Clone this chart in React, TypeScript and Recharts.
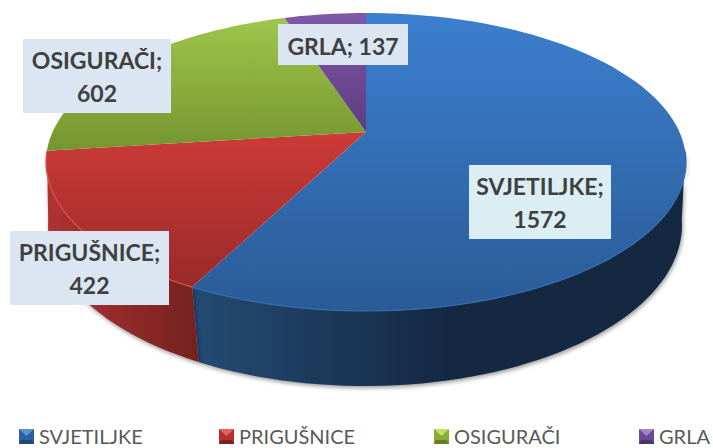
import React from 'react';
import { PieChart, Pie, Legend } from 'recharts';

const categories = ['SVJETILJKE', 'PRIGUŠNICE', 'OSIGURAČI', 'GRLA'];
const values = [1572, 422, 602, 137];
const tableData = categories.map((name, i) => ({ name, value: values[i] }));

// top face gradients, from the sector's upper to lower edge
const topColors = [
  ['#3c7fcf', '#2a5b97'],
  ['#cc3b37', '#972a2a'],
  ['#a0c64b', '#74942f'],
  ['#8058a9', '#5d3d7f'],
];
const topRanges = [
  [13, 311],
  [132, 292],
  [17, 153],
  [13, 132],
];
const rimColors = ['#366dae', '#e2504d', '#a6cc52', '#8a62b4'];
// side wall gradients, left to right
const wallColors = [
  ['#244a74', '#142841'],
  ['#ad3331', '#742120'],
  ['#74942f', '#74942f'],
  ['#5d3d7f', '#5d3d7f'],
];
const wallRanges = [
  [196, 450],
  [50, 198],
  [50, 300],
  [280, 366],
];
const labelBoxes = [
  { x: 469, y: 165, w: 142, h: 74, fill: '#dbeef4' },
  { x: 10, y: 231, w: 159, h: 74, fill: '#dce6f2' },
  { x: 23, y: 39, w: 148, h: 74, fill: '#dce6f2' },
  { x: 278, y: 24, w: 130, h: 41, fill: '#dce6f2' },
];
const legendSpots = [19, 219, 434, 639];
const legendShades = [
  ['#5b92d2', '#2c5f9e', '#1f4777', '#3a72b5'],
  ['#e8615e', '#b5302e', '#7e2220', '#c93c39'],
  ['#bfe060', '#8aab3a', '#62802a', '#9cc046'],
  ['#a283cc', '#6a4a94', '#4c3370', '#7c5aa8'],
];

const FONT = 'Lato, "Open Sans", sans-serif';
const topFace = { cx: 366, cy: 162, rx: 320, ry: 149, tilt: 0.2013 };
const bottomFace = { cx: 365, cy: 225, rx: 317, ry: 161, tilt: 0.163 };
const FRONT_LIMIT = 0.1; // the wall and rim only show on the near side of the disc

// circle angle -> screen point, with perspective so the apex sits above the ellipse centre
const project = (face: typeof topFace, deg: number) => {
  const rad = (deg * Math.PI) / 180;
  const u = Math.cos(rad);
  const v = -Math.sin(rad);
  const w = 1 - face.tilt * v;
  const a = face.rx * Math.sqrt(1 - face.tilt * face.tilt);
  const b = face.ry * (1 - face.tilt * face.tilt);
  return { x: face.cx + (a * u) / w, y: face.cy - face.ry * face.tilt + (b * v) / w };
};

const arcAngles = (start: number, end: number) => {
  const steps = Math.max(2, Math.ceil(Math.abs(end - start) / 2));
  const out = [];
  for (let i = 0; i <= steps; i++) out.push(start + ((end - start) * i) / steps);
  return out;
};

const frontAngles = (start: number, end: number) =>
  arcAngles(start, end).filter((deg) => -Math.sin((deg * Math.PI) / 180) >= FRONT_LIMIT);

const toPath = (pts: { x: number; y: number }[]) =>
  pts.map((p, i) => `${i === 0 ? 'M' : 'L'}${p.x.toFixed(1)},${p.y.toFixed(1)}`).join(' ');

const TopShape = (props: any) => {
  const i = categories.indexOf(props.name);
  const arc = arcAngles(props.startAngle, props.endAngle).map((d) => project(topFace, d));
  const rim = frontAngles(props.startAngle, props.endAngle).map((d) => project(topFace, d));
  const apex = { x: topFace.cx, y: topFace.cy - topFace.ry * topFace.tilt };
  return (
    <g>
      <path d={`${toPath([apex, ...arc])} Z`} fill={`url(#top-${i})`} />
      {rim.length > 1 && <path d={toPath(rim)} fill="none" stroke={rimColors[i]} strokeWidth={1.2} />}
    </g>
  );
};

const WallShape = (props: any) => {
  const i = categories.indexOf(props.name);
  const angles = frontAngles(props.startAngle, props.endAngle);
  if (angles.length < 2) return <g />;
  const upper = angles.map((d) => project(topFace, d));
  const lower = angles.map((d) => project(bottomFace, d)).reverse();
  return (
    <path
      d={`${toPath([...upper, ...lower])} Z`}
      fill={`url(#wall-${i})`}
      style={{ filter: 'drop-shadow(1px 2px 2px rgba(0,0,0,0.4))' }}
    />
  );
};

const renderLabel = (props: any) => {
  const i = categories.indexOf(props.name);
  const box = labelBoxes[i];
  const mid = box.x + box.w / 2;
  const single = box.h < 50;
  const textProps = {
    x: mid,
    textAnchor: 'middle' as const,
    fontFamily: FONT,
    fontWeight: 700,
    fontSize: 23,
    fill: '#404040',
  };
  return (
    <g key={props.name}>
      <rect x={box.x} y={box.y} width={box.w} height={box.h} fill={box.fill} />
      {single ? (
        <text {...textProps} y={box.y + 31}>{`${props.name}; ${props.value}`}</text>
      ) : (
        <>
          <text {...textProps} y={box.y + 30}>{`${props.name};`}</text>
          <text {...textProps} y={box.y + 63}>{props.value}</text>
        </>
      )}
    </g>
  );
};

const LegendIcon = ({ shades }: { shades: string[] }) => (
  <svg width={15} height={15} style={{ position: 'absolute', left: 0, top: 1 }}>
    <rect width={15} height={15} fill={shades[1]} />
    <polygon points="0,0 15,0 7.5,7" fill={shades[0]} />
    <polygon points="0,15 15,15 13,11 2,11" fill={shades[2]} />
  </svg>
);

const renderLegend = () => (
  <div style={{ position: 'relative', width: 713, height: 16 }}>
    {categories.map((name, i) => (
      <div
        key={name}
        style={{
          position: 'absolute',
          left: legendSpots[i],
          top: 0,
          paddingLeft: 20,
          fontFamily: FONT,
          fontSize: 20,
          lineHeight: '16px',
          color: '#595959',
          whiteSpace: 'nowrap',
        }}
      >
        <LegendIcon shades={legendShades[i]} />
        {name}
      </div>
    ))}
  </div>
);

export default function App() {
  return (
    <div style={{ position: 'absolute', left: 0, top: 0, width: 713, height: 448, overflow: 'hidden', background: '#fff' }}>
      <PieChart width={713} height={448} margin={{ top: 0, right: 0, bottom: 0, left: 0 }}>
        <defs>
          {topColors.map((c, i) => (
            <linearGradient key={i} id={`top-${i}`} gradientUnits="userSpaceOnUse" x1={0} x2={0} y1={topRanges[i][0]} y2={topRanges[i][1]}>
              <stop offset="0%" stopColor={c[0]} />
              <stop offset="100%" stopColor={c[1]} />
            </linearGradient>
          ))}
          {wallColors.map((c, i) => (
            <linearGradient key={i} id={`wall-${i}`} gradientUnits="userSpaceOnUse" x1={wallRanges[i][0]} x2={wallRanges[i][1]} y1={0} y2={0}>
              <stop offset="0%" stopColor={c[0]} />
              <stop offset="100%" stopColor={c[1]} />
            </linearGradient>
          ))}
        </defs>
        <Pie
          data={tableData}
          dataKey="value"
          nameKey="name"
          cx={366}
          cy={132}
          outerRadius={119}
          startAngle={90}
          endAngle={-270}
          stroke="none"
          legendType="none"
          shape={WallShape}
          isAnimationActive={false}
        />
        <Pie
          data={tableData}
          dataKey="value"
          nameKey="name"
          cx={366}
          cy={132}
          outerRadius={119}
          startAngle={90}
          endAngle={-270}
          stroke="none"
          shape={TopShape}
          label={renderLabel}
          labelLine={false}
          isAnimationActive={false}
        />
        <Legend
          content={renderLegend}
          wrapperStyle={{ position: 'absolute', left: 0, top: 428, width: 713, height: 16 }}
        />
      </PieChart>
    </div>
  );
}
